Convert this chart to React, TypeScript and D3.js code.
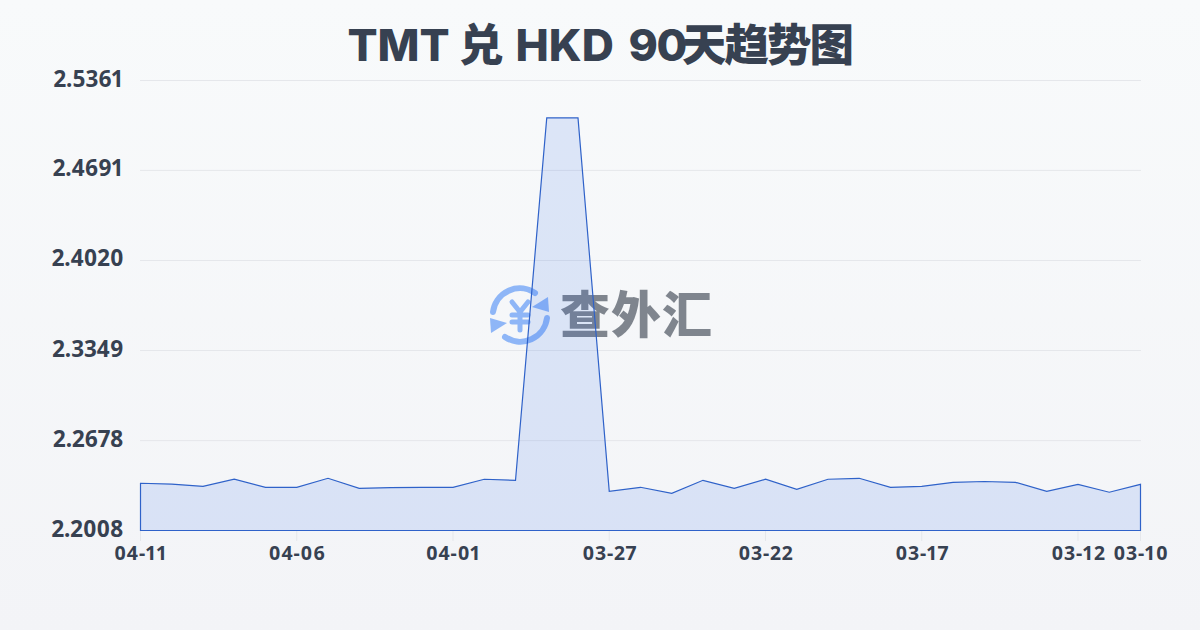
import React from "react";
import * as d3 from "d3";

const dates = ["04-11","04-10","04-09","04-08","04-07","04-06","04-05","04-04","04-03","04-02","04-01","03-31","03-30","03-29","03-28","03-27","03-26","03-25","03-24","03-23","03-22","03-21","03-20","03-19","03-18","03-17","03-16","03-15","03-14","03-13","03-12","03-11","03-10"];
const rates = [2.2360,2.2354,2.2337,2.2390,2.2330,2.2330,2.2397,2.2322,2.2328,2.2330,2.2330,2.2390,2.2382,2.5082,2.5082,2.2300,2.2330,2.2285,2.2382,2.2322,2.2390,2.2314,2.2390,2.2397,2.2330,2.2337,2.2367,2.2373,2.2367,2.2300,2.2352,2.2293,2.2352];
const yTicks = [2.2008,2.2678,2.3349,2.4020,2.4691,2.5361];
const xTickLabels = ["04-11","04-06","04-01","03-27","03-22","03-17","03-12","03-10"];
const brand = "查外汇";

const W = 1200, H = 630;
const cjk = "'Noto Sans CJK SC','Noto Sans',sans-serif";
const label = `'Noto Sans',${cjk}`;

export default function App() {
  const x = d3.scalePoint<string>().domain(dates).range([140.5, 1140.5]);
  const y = d3.scaleLinear().domain([2.2008, 2.5361]).range([530.5, 80.5]);
  const area = d3.area<number>().x((_, i) => x(dates[i])!).y0(y(2.2008)).y1(d => y(d));
  const d = area(rates)!;
  return (
    <svg width={W} height={H} viewBox={`0 0 ${W} ${H}`} style={{ position: "fixed", left: 0, top: 0, display: "block" }}>
      <defs>
        <linearGradient id="bg" x1="0" y1="0" x2="0" y2="1">
          <stop offset="0" stopColor="#f8fafb" />
          <stop offset="1" stopColor="#f3f4f7" />
        </linearGradient>
      </defs>
      <rect width={W} height={H} fill="url(#bg)" />
      <text y={60.5} fontFamily={`Inter,${cjk}`} fontWeight={800} fontSize={44.5} fill="#374151">
        <tspan x={347.5}>TMT</tspan>
        <tspan x={459}>兑</tspan>
        <tspan x={515.5}>HKD</tspan>
        <tspan x={628.5} letterSpacing={-1.5}>90</tspan>
        <tspan x={682} letterSpacing={-2}>天趋势图</tspan>
      </text>
      {yTicks.map(t => (
        <g key={t}>
          {t !== yTicks[0] && <line x1={140} x2={1141} y1={y(t)} y2={y(t)} stroke="#e5e7eb" strokeWidth={1} />}
          <text x={123.5} y={y(t) + 6} textAnchor="end" fontFamily={label} fontWeight={700} fontSize={22.5} fill="#374151" style={{ fontVariantNumeric: "proportional-nums" }}>{t.toFixed(4)}</text>
        </g>
      ))}
      {xTickLabels.map(l => (
        <g key={l}>
          <line x1={x(l)} x2={x(l)} y1={530} y2={541} stroke="#e5e7eb" strokeWidth={1} />
          <text x={x(l) + 0.5} y={560} textAnchor="middle" fontFamily={label} fontWeight={700} fontSize={19.5} letterSpacing={0.8} fill="#374151" style={{ fontVariantNumeric: "proportional-nums" }}>{l}</text>
        </g>
      ))}
      <g opacity={0.55}>
        <g transform="translate(520,315)" fill="none" stroke="#3b82f6" strokeWidth={6}>
          <path d="M-27,-3 A27,27 0 0 1 15,-22" strokeLinecap="round" />
          <path d="M27,3 A27,27 0 0 1 -15,22" strokeLinecap="round" />
          <path d="M29,-3 L28,-18 L12,-8 Z" fill="#3b82f6" stroke="none" />
          <path d="M-30,3 L-29,18 L-13,8 Z" fill="#3b82f6" stroke="none" />
          <path d="M-8,-13 L0,-3 L8,-13 M-8,0 H8 M-8,7 H8 M0,-3 V15" strokeWidth={5} strokeLinecap="round" strokeLinejoin="round" />
        </g>
        <text x={560} y={333} fontFamily={cjk} fontWeight={900} fontSize={50} fill="#1f2937" textLength={152}>{brand}</text>
      </g>
      <path d={d} fill="#2563eb" fillOpacity={0.13} />
      <path d={d} fill="none" stroke="#2f62c9" strokeWidth={1.2} />
    </svg>
  );
}
